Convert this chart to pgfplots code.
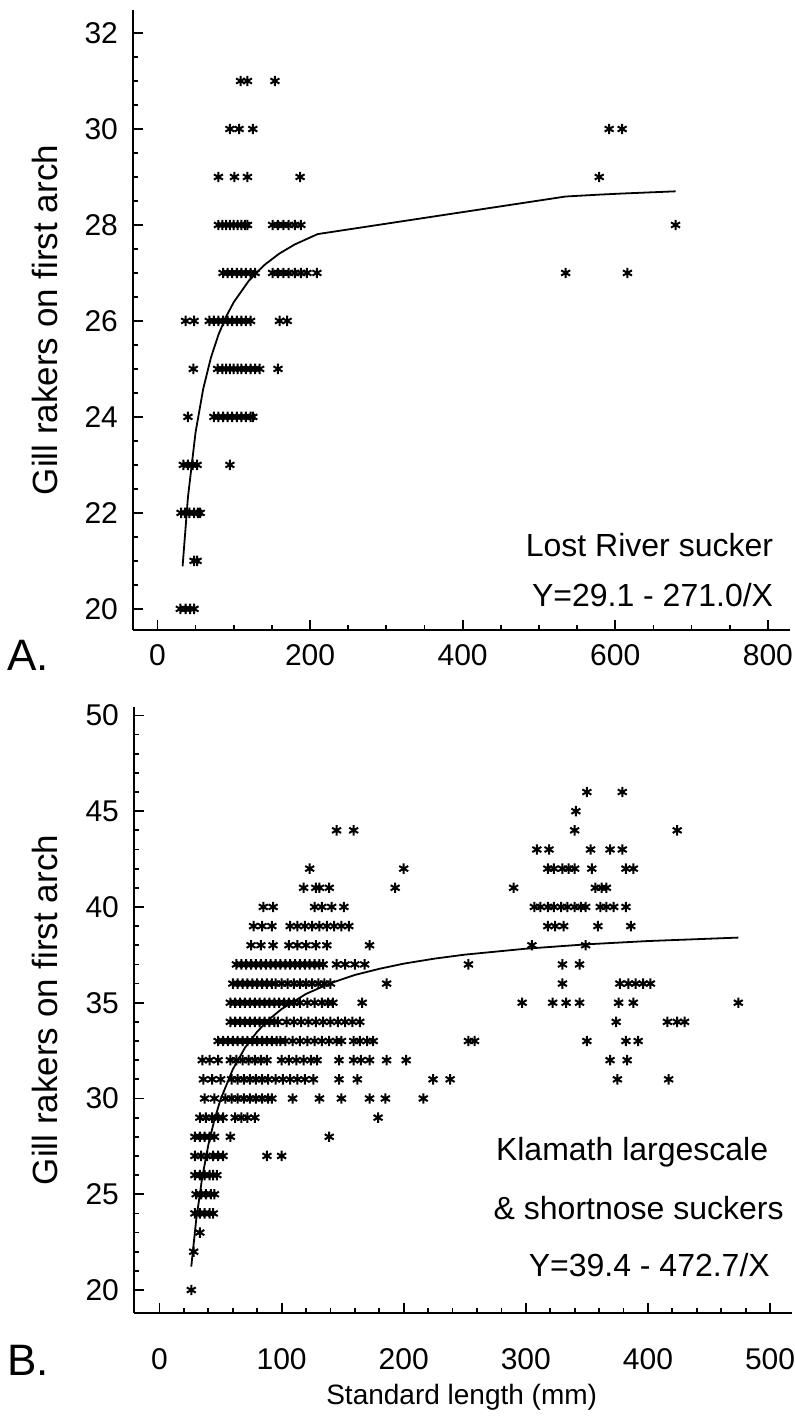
\documentclass[border=0pt]{standalone}
\usepackage{fontspec}
\setmainfont{Liberation Sans}
\usepackage{pgfplots}
\pgfplotsset{compat=1.18}
\pgfplotsset{
  myaxis/.style={
    scale only axis,
    anchor=south west,
    axis lines=left,
    axis line style={-, line width=1.1pt},
    tick align=inside,
    major tick length=5pt, minor tick length=2.5pt,
    every tick/.style={black, line width=0.9pt},
    tick label style={font=\fontsize{15}{17}\selectfont},
    /pgf/number format/assume math mode=true,
    clip=false,
  },
  pts/.style={only marks, mark=asterisk, mark size=2.6pt, mark options={line width=1pt}, black},
  fit/.style={black, line width=0.9pt, no marks},
}
\begin{document}
\begin{tikzpicture}
\path[use as bounding box] (0pt,0pt) rectangle (397.5pt,708pt);
% ---------------- Panel A ----------------
\begin{axis}[myaxis,
  at={(66.5pt,393pt)}, width=328.5pt, height=310pt,
  xmin=-32, xmax=829, ymin=19.56, ymax=32.48,
  xtick={0,200,...,800}, minor x tick num=3,
  ytick={20,22,...,32}, minor y tick num=3,
  xticklabel style={yshift=-4pt},
  yticklabel style={xshift=-4pt},
  ylabel={Gill rakers on first arch},
  every axis y label/.style={at={(axis description cs:-0.134,0.5)}, rotate=90, anchor=center, font=\fontsize{17.5}{19}\selectfont},
]
\addplot[pts] coordinates {
(109,31) (118,31) (154,31)
(95,30) (107,30) (125,30)
(80,29) (101,29) (118,29) (187,29)
(80,28) (85,28) (90,28) (95,28) (100,28) (105,28) (110,28) (115,28) (118,28)
(151,28) (158,28) (165,28) (172,28) (180,28) (188,28)
(86,27) (92,27) (98,27) (104,27) (110,27) (116,27) (122,27) (128,27)
(151,27) (158,27) (165,27) (172,27) (180,27) (188,27) (196,27) (209,27)
(37,26) (48,26) (68,26) (74,26) (80,26) (86,26) (92,26) (98,26) (104,26) (110,26) (116,26) (122,26)
(160,26) (170,26)
(47,25) (79,25) (85,25) (90,25) (95,25) (100,25) (105,25) (110,25) (116,25) (122,25) (128,25) (134,25) (158,25)
(40,24) (74,24) (80,24) (86,24) (92,24) (98,24) (104,24) (110,24) (116,24) (122,24) (125,24)
(34,23) (40,23) (46,23) (52,23) (95,23)
(31,22) (36,22) (42,22) (48,22) (53,22) (56,22)
(48,21) (52,21)
(30,20) (37,20) (43,20) (48,20)
(535,27) (579,29) (592,30) (609,30) (616,27) (679,28)
};
\addplot[fit] coordinates {
(33,20.888) (40,22.325) (50,23.68) (60,24.583) (70,25.229) (80,25.713) (90,26.089)
(100,26.39) (120,26.842) (140,27.164) (160,27.406) (180,27.594) (210,27.81)
(535,28.593) (579,28.632) (609,28.655) (679,28.701)
};
\node[anchor=east, font=\fontsize{16}{18}\selectfont] at (rel axis cs:0.985,0.137) {Lost River sucker};
\node[anchor=east, font=\fontsize{16}{18}\selectfont] at (rel axis cs:0.985,0.056) {Y=29.1 - 271.0/X};
\end{axis}
\node[font=\fontsize{22}{24}\selectfont] at (14pt,380.5pt) {A.};
% ---------------- Panel B ----------------
\begin{axis}[myaxis,
  at={(67pt,51.5pt)}, width=329pt, height=303pt,
  xmin=-20.9, xmax=518, ymin=18.8, ymax=50.44,
  xtick={0,100,...,500}, minor x tick num=4,
  ytick={20,25,...,50}, minor y tick num=4,
  xticklabel style={yshift=-14pt},
  yticklabel style={xshift=-4pt},
  ylabel={Gill rakers on first arch},
  every axis y label/.style={at={(axis description cs:-0.135,0.5)}, rotate=90, anchor=center, font=\fontsize{17.5}{19}\selectfont},
  xlabel={Standard length (mm)},
  every axis x label/.style={at={(axis description cs:0.498,-0.139)}, anchor=center, font=\fontsize{14}{16}\selectfont},
]
\addplot[pts] coordinates {
(350,46) (379,46)
(341,45)
(145,44) (159,44) (340,44) (424,44)
(309,43) (319,43) (353,43) (369,43) (379,43)
(123,42) (200,42) (318,42) (323,42) (330,42) (335,42) (340,42) (354,42) (382,42) (388,42)
(118,41) (128,41) (131,41) (139,41) (193,41) (290,41) (357,41) (362,41) (366,41)
(85,40) (93,40) (127,40) (133,40) (141,40) (151,40)
(307,40) (312,40) (318,40) (323,40) (329,40) (334,40) (340,40) (345,40) (349,40) (361,40) (366,40) (372,40) (382,40)
(77,39) (84,39) (92,39) (107,39) (113,39) (119,39) (125,39) (131,39) (137,39) (143,39) (149,39) (155,39)
(318,39) (324,39) (331,39) (359,39) (386,39)
(75,38) (83,38) (93,38) (106,38) (113,38) (120,38) (128,38) (137,38) (172,38) (305,38) (349,38)
(63,37) (67,37) (71,37) (75,37) (79,37) (83,37) (87,37) (91,37) (95,37) (99,37) (103,37) (107,37)
(111,37) (115,37) (119,37) (123,37) (127,37) (131,37) (134,37) (145,37) (152,37) (160,37) (168,37)
(253,37) (330,37) (344,37)
(60,36) (64,36) (68,36) (72,36) (76,36) (80,36) (84,36) (88,36) (92,36) (95,36)
(100,36) (105,36) (110,36) (115,36) (120,36) (125,36) (130,36) (135,36) (140,36)
(186,36) (330,36) (377,36) (384,36) (390,36) (396,36) (402,36)
(58,35) (62,35) (66,35) (70,35) (74,35) (78,35) (82,35) (86,35) (90,35) (94,35) (98,35) (102,35) (106,35) (110,35) (115,35)
(121,35) (127,35) (133,35) (138,35) (142,35) (166,35) (297,35) (322,35) (333,35) (344,35) (376,35) (388,35) (474,35)
(58,34) (62,34) (66,34) (70,34) (74,34) (78,34) (82,34) (86,34) (90,34) (94,34) (97,34)
(104,34) (110,34) (116,34) (122,34) (128,34) (134,34) (140,34) (146,34) (152,34) (158,34) (164,34)
(374,34) (416,34) (424,34) (430,34)
(48,33) (52,33) (56,33) (60,33) (64,33) (68,33) (72,33) (76,33) (80,33) (84,33) (88,33) (92,33) (96,33) (99,33)
(103,33) (109,33) (115,33) (121,33) (127,33) (133,33) (139,33) (145,33) (149,33)
(159,33) (164,33) (170,33) (175,33) (253,33) (258,33) (350,33) (382,33) (392,33)
(35,32) (41,32) (48,32) (58,32) (63,32) (68,32) (73,32) (78,32) (83,32) (88,32)
(100,32) (106,32) (112,32) (118,32) (124,32) (129,32) (147,32) (159,32) (165,32) (172,32) (186,32) (202,32) (369,32) (383,32)
(36,31) (43,31) (50,31) (59,31) (64,31) (69,31) (74,31) (79,31) (84,31) (89,31)
(95,31) (101,31) (107,31) (113,31) (119,31) (126,31) (147,31) (162,31) (224,31) (238,31) (375,31) (417,31)
(37,30) (45,30) (54,30) (59,30) (64,30) (69,30) (74,30) (79,30) (84,30) (89,30) (92,30)
(109,30) (131,30) (149,30) (172,30) (185,30) (216,30)
(33,29) (38,29) (43,29) (48,29) (52,29) (62,29) (67,29) (72,29) (78,29) (179,29)
(29,28) (33,28) (37,28) (41,28) (45,28) (58,28) (139,28)
(29,27) (34,27) (39,27) (44,27) (48,27) (52,27) (88,27) (100,27)
(29,26) (33,26) (37,26) (41,26) (44,26) (47,26)
(30,25) (34,25) (38,25) (42,25) (45,25)
(29,24) (33,24) (37,24) (41,24) (44,24)
(33,23) (28,22) (26,20)
};
\addplot[fit] coordinates {
(26,21.22) (30,23.64) (35,25.89) (40,27.58) (45,28.90) (50,29.95) (60,31.52) (70,32.65)
(80,33.49) (90,34.15) (100,34.67) (120,35.46) (140,36.02) (160,36.45) (180,36.77)
(200,37.04) (225,37.30) (250,37.51) (300,37.82) (350,38.05) (400,38.22) (474,38.40)
};
\node[anchor=center, font=\fontsize{16}{18}\selectfont] at (rel axis cs:0.757,0.266) {Klamath largescale};
\node[anchor=center, font=\fontsize{16}{18}\selectfont] at (rel axis cs:0.767,0.173) {\& shortnose suckers};
\node[anchor=east, font=\fontsize{16}{18}\selectfont] at (rel axis cs:0.977,0.079) {Y=39.4 - 472.7/X};
\end{axis}
\node[font=\fontsize{22}{24}\selectfont] at (14pt,28pt) {B.};
\end{tikzpicture}
\end{document}
